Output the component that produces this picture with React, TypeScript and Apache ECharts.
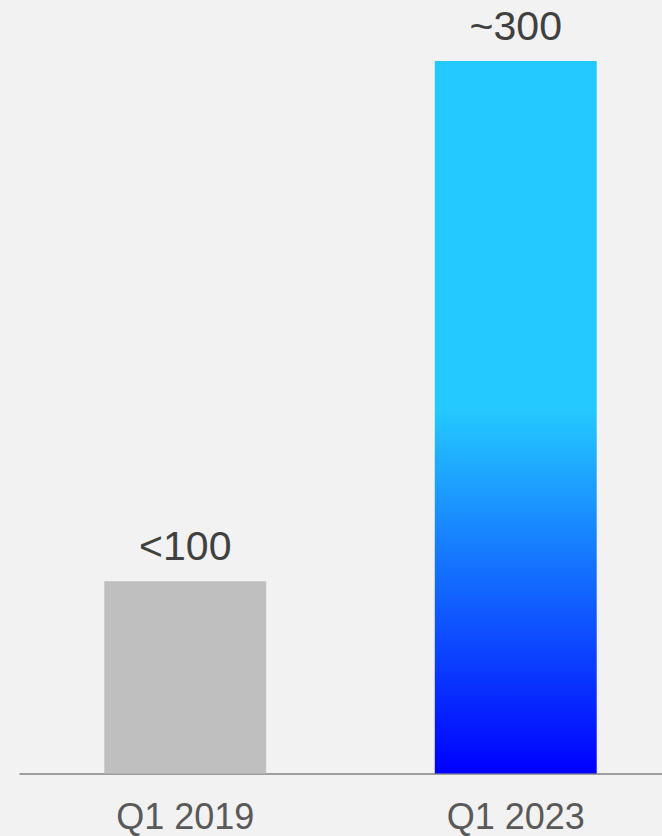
import React, { useEffect, useRef } from "react";
import * as echarts from "echarts";

const categories = ["Q1 2019", "Q1 2023"];
const values = [81, 300];
const valueLabels = ["<100", "~300"];

export default function App() {
  const ref = useRef<HTMLDivElement>(null);
  useEffect(() => {
    if (!ref.current) return;
    const chart = echarts.init(ref.current, undefined, { renderer: "svg" });
    const font = "'Liberation Sans', Arial, sans-serif";
    chart.setOption({
      animation: false,
      backgroundColor: "#f2f2f2",
      grid: { left: 20, right: 0, top: 61, bottom: 62.5, containLabel: false },
      xAxis: {
        type: "category",
        data: categories,
        axisLine: { show: true, lineStyle: { color: "#808080", width: 1.5 } },
        axisTick: { show: false },
        axisLabel: { color: "#595959", fontSize: 36, fontFamily: font, margin: 25 },
      },
      yAxis: {
        type: "value",
        min: 0,
        max: 300,
        show: false,
        splitLine: { show: false },
      },
      series: [
        {
          type: "bar",
          barWidth: "49%",
          data: values.map((v, i) => ({
            value: v,
            itemStyle: {
              color:
                i === 0
                  ? "#bfbfbf"
                  : new echarts.graphic.LinearGradient(0, 0, 0, 1, [
                      { offset: 0, color: "#24c9ff" },
                      { offset: 0.49, color: "#24c9ff" },
                      { offset: 1, color: "#0000ff" },
                    ]),
            },
          })),
          label: {
            show: true,
            position: "top",
            distance: 15,
            color: "#404040",
            fontSize: 41,
            fontFamily: font,
            formatter: (p: any) => valueLabels[p.dataIndex],
          },
        },
      ],
    });
    return () => chart.dispose();
  }, []);
  return (
    <div
      style={{
        position: "fixed",
        left: 0,
        top: 0,
        width: 662,
        height: 836,
        overflow: "hidden",
        background: "#f2f2f2",
      }}
    >
      <div ref={ref} style={{ width: 681, height: 836 }} />
    </div>
  );
}
